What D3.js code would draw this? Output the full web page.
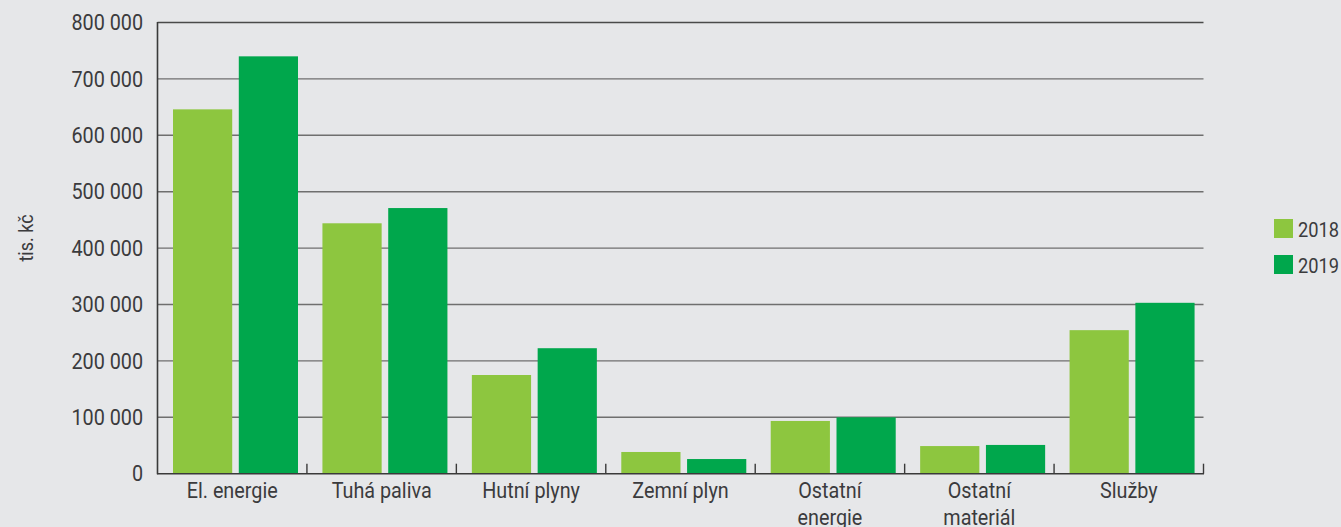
<!DOCTYPE html>
<html>
<head>
<meta charset="utf-8">
<title>Náklady na energie</title>
<script src="https://d3js.org/d3.v7.min.js"></script>
<style>
  body { margin: 0; background: #e6e7e9; }
  svg { display: block; font-family: Roboto, "Noto Sans", sans-serif; }
</style>
</head>
<body>
<svg id="chart" width="1341" height="527"></svg>
<script>
// data (tis. kč)
var categories = ["El. energie", "Tuhá paliva", "Hutní plyny", "Zemní plyn", "Ostatní energie", "Ostatní materiál", "Služby"];
var years = ["2018", "2019"];
var values2018 = [646000, 444000, 175000, 38500, 93500, 49000, 254500];
var values2019 = [740000, 471000, 222500, 26000, 100000, 51000, 303000];
var yTicks = [0, 100000, 200000, 300000, 400000, 500000, 600000, 700000, 800000];
var colors = {"2018": "#8dc63f", "2019": "#00a74c"};

var svg = d3.select("#chart");
var plotL = 157.5, plotR = 1203.5, plotT = 22.5, plotB = 473.7;
var textColor = "#3b3b3d";
var narrow = 0.9; // squeeze text a bit, the original uses a condensed face

var x0 = d3.scaleBand().domain(categories).range([plotL, plotR]).padding(0);
var x1 = d3.scaleBand().domain(years).range([15.5, 140.5]).paddingInner(0.1);
var y = d3.scaleLinear().domain([0, 800000]).range([plotB, plotT]);

var fmt = function(d) { return d3.format(",")(d).replace(/,/g, " "); };

// gridlines
svg.append("g").selectAll("line")
  .data(yTicks.filter(function(d) { return d > 0; }))
  .enter().append("line")
  .attr("x1", plotL).attr("x2", plotR)
  .attr("y1", function(d) { return y(d); }).attr("y2", function(d) { return y(d); })
  .attr("stroke", function(d) { return d === 800000 ? "#4a4a4a" : "#6f6f6f"; })
  .attr("stroke-width", 1.4);

// bars
var rows = categories.map(function(c, i) { return {cat: c, vals: [values2018[i], values2019[i]]}; });
var groups = svg.append("g").selectAll("g")
  .data(rows).enter().append("g")
  .attr("transform", function(d) { return "translate(" + x0(d.cat) + ",0)"; });
groups.selectAll("rect")
  .data(function(d) { return years.map(function(yr, j) { return {year: yr, v: d.vals[j]}; }); })
  .enter().append("rect")
  .attr("x", function(d) { return x1(d.year); })
  .attr("width", x1.bandwidth())
  .attr("y", function(d) { return y(d.v); })
  .attr("height", function(d) { return plotB - y(d.v); })
  .attr("fill", function(d) { return colors[d.year]; });

// axes lines
svg.append("line").attr("x1", plotL).attr("x2", plotL).attr("y1", plotT - 0.5).attr("y2", plotB + 0.5)
  .attr("stroke", "#3a3a3a").attr("stroke-width", 1.6);
svg.append("line").attr("x1", plotL - 0.5).attr("x2", plotR + 0.5).attr("y1", plotB).attr("y2", plotB)
  .attr("stroke", "#3a3a3a").attr("stroke-width", 1.6);

// category separators (ticks pointing up)
var edges = categories.map(function(c) { return x0(c); }).slice(1).concat([plotR]);
svg.append("g").selectAll("line").data(edges).enter().append("line")
  .attr("x1", function(d) { return d; }).attr("x2", function(d) { return d; })
  .attr("y1", plotB).attr("y2", plotB - 10)
  .attr("stroke", "#3a3a3a").attr("stroke-width", 1.4);

// y tick labels
svg.append("g").selectAll("text").data(yTicks).enter().append("text")
  .attr("transform", function(d) { return "translate(143," + y(d) + ") scale(" + narrow + ",1)"; })
  .attr("dy", "0.35em")
  .attr("text-anchor", "end")
  .attr("font-size", 22)
  .attr("fill", textColor)
  .text(fmt);

// category labels (the two long ones wrap)
var wrapped = {"Ostatní energie": ["Ostatní", "energie"], "Ostatní materiál": ["Ostatní", "materiál"]};
svg.append("g").selectAll("text").data(categories).enter().append("text")
  .attr("transform", function(d) { return "translate(" + (x0(d) + x0.bandwidth() / 2) + ",498) scale(" + narrow + ",1)"; })
  .attr("text-anchor", "middle")
  .attr("font-size", 22)
  .attr("fill", textColor)
  .each(function(d) {
    var lines = wrapped[d] || [d];
    var t = d3.select(this);
    lines.forEach(function(l, i) {
      t.append("tspan").attr("x", 0).attr("dy", i === 0 ? 0 : 27).text(l);
    });
  });

// y axis title
svg.append("text")
  .attr("transform", "translate(33,238) rotate(-90) scale(" + narrow + ",1)")
  .attr("text-anchor", "middle")
  .attr("font-size", 20)
  .attr("fill", textColor)
  .text("tis. kč");

// legend
var legend = svg.append("g").selectAll("g").data(years).enter().append("g")
  .attr("transform", function(d, i) { return "translate(1274," + (219 + i * 36) + ")"; });
legend.append("rect").attr("width", 19).attr("height", 19).attr("fill", function(d) { return colors[d]; });
legend.append("text")
  .attr("transform", "translate(24,17.7) scale(0.87,1)")
  .attr("font-size", 21).attr("fill", textColor)
  .text(function(d) { return d; });
</script>
</body>
</html>
